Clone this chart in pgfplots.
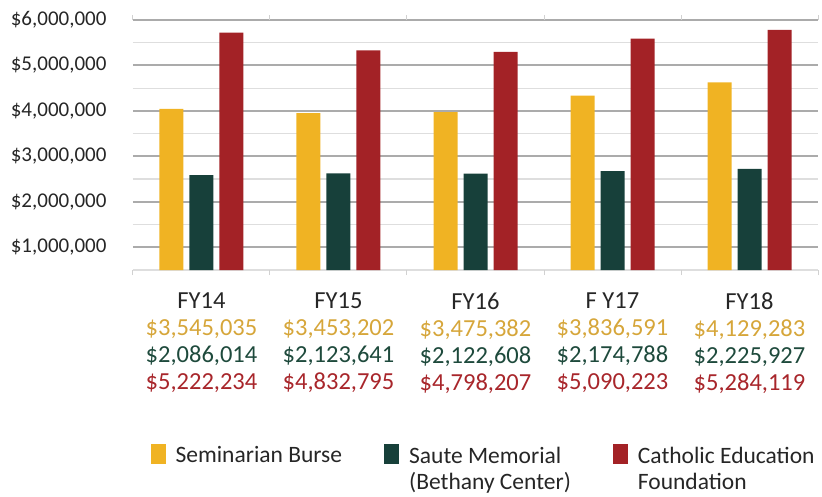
\documentclass[border=0pt]{standalone}
\usepackage{pgfplots}
\pgfplotsset{compat=1.18}
\usepackage{fontspec}
\setmainfont{Carlito}
\definecolor{ylw}{HTML}{F0B323}
\definecolor{grn}{HTML}{17403A}
\definecolor{rd}{HTML}{A32226}
\definecolor{ylwt}{HTML}{D6A63A}
\definecolor{grnt}{HTML}{1E4A3C}
\definecolor{rdt}{HTML}{A8262B}
\definecolor{txt}{HTML}{262626}
\begin{document}
\begin{tikzpicture}
\path[use as bounding box] (-133pt,-226pt) rectangle (689pt,270pt);
\begin{axis}[
  at={(0pt,0pt)}, anchor=south west,
  scale only axis, width=685pt, height=250pt,
  ybar=6pt, bar width=24pt,
  xmin=-0.5, xmax=4.5, ymin=0, ymax=5500000,
  enlarge x limits=false,
  xtick={-0.5,0.5,...,4.5},
  xticklabels={,,,,,},
  xtick style={draw=black!18, line width=1pt},
  major tick length=5pt,
  tick align=outside,
  extra x ticks={0,1,2,3,4},
  extra x tick labels={
    {FY14\\\textcolor{ylwt}{\$3,545,035}\\\textcolor{grnt}{\$2,086,014}\\\textcolor{rdt}{\$5,222,234}},
    {FY15\\\textcolor{ylwt}{\$3,453,202}\\\textcolor{grnt}{\$2,123,641}\\\textcolor{rdt}{\$4,832,795}},
    {FY16\\\textcolor{ylwt}{\$3,475,382}\\\textcolor{grnt}{\$2,122,608}\\\textcolor{rdt}{\$4,798,207}},
    {F Y17\\\textcolor{ylwt}{\$3,836,591}\\\textcolor{grnt}{\$2,174,788}\\\textcolor{rdt}{\$5,090,223}},
    {FY18\\\textcolor{ylwt}{\$4,129,283}\\\textcolor{grnt}{\$2,225,927}\\\textcolor{rdt}{\$5,284,119}}},
  extra x tick style={major tick length=0pt, xticklabel style={align=center, font=\fontsize{24.5}{27}\selectfont, text=txt, yshift=-19pt}},
  ytick={500000,1500000,2500000,3500000,4500000,5500000},
  yticklabels={{\$1,000,000},{\$2,000,000},{\$3,000,000},{\$4,000,000},{\$5,000,000},{\$6,000,000}},
  minor ytick={0,1000000,2000000,3000000,4000000,5000000},
  ytick style={draw=none},
  scaled y ticks=false,
  yticklabel style={font=\fontsize{21}{23}\selectfont, text=txt, xshift=-18pt},
  ymajorgrids, yminorgrids,
  major grid style={draw=black!33, line width=2pt},
  minor grid style={draw=black!13, line width=1.3pt},
  axis line style={draw=none},
  legend image code/.code={\fill[#1] (0pt,-9pt) rectangle (15pt,11pt);},
  legend cell align=left,
  legend columns=3,
  legend style={at={(0.021,-0.683)}, anchor=north west, draw=none, fill=none,
    font=\fontsize{23.5}{26}\selectfont, text=txt,
    /tikz/every odd column/.append style={column sep=8pt},
    /tikz/every even column/.append style={column sep=40pt}},
]
\addplot[fill=ylw, draw=none] coordinates {(0,3545035) (1,3453202) (2,3475382) (3,3836591) (4,4129283)};
\addlegendentry{Seminarian Burse}
\addplot[fill=grn, draw=none] coordinates {(0,2086014) (1,2123641) (2,2122608) (3,2174788) (4,2225927)};
\addlegendentry{\begin{tabular}[t]{@{}l@{}}Saute Memorial\\(Bethany Center)\end{tabular}}
\addplot[fill=rd, draw=none] coordinates {(0,5222234) (1,4832795) (2,4798207) (3,5090223) (4,5284119)};
\addlegendentry{\begin{tabular}[t]{@{}l@{}}Catholic Education\\Foundation\end{tabular}}
\end{axis}
\end{tikzpicture}
\end{document}
